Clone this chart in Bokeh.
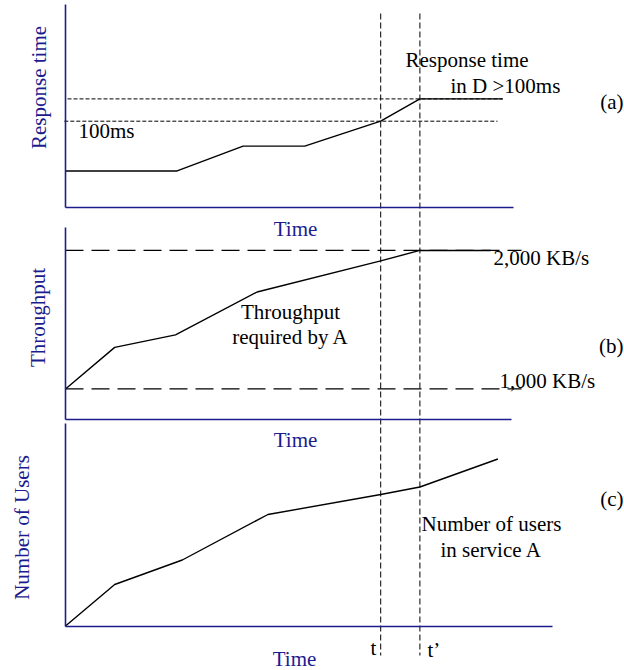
import math
from bokeh.plotting import figure
from bokeh.models import Range1d, LinearAxis, FixedTicker, Label
from bokeh.embed import file_html
from bokeh.resources import INLINE

# ---------------- data ----------------
# (a) response time of service D
time_a = [0, 2.79, 4.44, 5.98, 7.88, 8.86, 10.93]
response_ms = [42, 42, 71, 71, 100, 126, 126]
threshold_ms = 100
response_in_d_ms = 126

# (b) throughput required by service A
time_b = [0, 1.23, 2.75, 4.79, 7.88, 8.86, 10.63]
throughput_kbs = [1000, 1300, 1390, 1700, 1925, 2000, 2000]
throughput_levels = [1000, 2000]
throughput_level_labels = ["1,000 KB/s", "2,000 KB/s"]

# (c) number of users in service A
time_c = [0, 1.23, 2.92, 5.06, 7.88, 8.86, 10.81]
users = [0, 415, 660, 1115, 1315, 1390, 1670]

# instants t and t'
t_marks = [7.88, 8.86]
t_labels = ["t", "t\u2019"]

# ---------------- layout ----------------
W, H = 624, 670
PAGE_L, PAGE_T = 0, 0
PAGE_R, PAGE_B = PAGE_L + W, PAGE_T + H
ORIGIN_X = 65.0     # x pixel of time 0
PX_PER_T = 40.0
LABEL_DY = -8       # baseline compensation for labels

AX = "#1c1c8f"
FONT = "Liberation Serif"
FS = "21px"


def yrange(axis_px, px_per_unit, base):
    top = base + (axis_px - PAGE_T) / px_per_unit
    bottom = base - (PAGE_B - axis_px) / px_per_unit
    return Range1d(bottom, top)


p = figure(width=W, height=H, output_backend="svg", toolbar_location=None,
           x_range=Range1d((PAGE_L - ORIGIN_X) / PX_PER_T, (PAGE_R - ORIGIN_X) / PX_PER_T),
           y_range=Range1d(PAGE_B, PAGE_T),
           x_axis_type=None, y_axis_type=None, min_border=0)
p.outline_line_color = None
p.grid.visible = False
p.background_fill_color = "white"
p.border_fill_color = "white"

p.extra_x_ranges = {"px": Range1d(PAGE_L, PAGE_R)}
p.extra_y_ranges = {
    "a": yrange(206.5, 0.858, 0),
    "b": yrange(418.5, 0.1385, 783),
    "c": yrange(625.5, 0.1, 0),
}

panels = [
    ("a", 0, (0, 236), (0, 11.2)),
    ("b", 783, (783, 2166), (0, 11.15)),
    ("c", 0, (0, 2022), (0, 12.18)),
]
for name, base, ybounds, xbounds in panels:
    for side, loc, bnds in (("left", 0, ybounds), ("below", base, xbounds)):
        ax = LinearAxis(y_range_name=name, fixed_location=loc, bounds=bnds,
                        ticker=FixedTicker(ticks=[]))
        ax.axis_line_color = AX
        ax.axis_line_width = 1.6
        ax.major_tick_line_color = None
        ax.minor_tick_line_color = None
        ax.major_label_text_font_size = "0px"
        p.add_layout(ax, side)

# (a) thresholds and curve
p.line([-0.03, 10.8], [threshold_ms, threshold_ms], y_range_name="a",
       line_color="black", line_width=1, line_dash="4 2")
p.line([0.05, 10.93], [response_in_d_ms, response_in_d_ms], y_range_name="a",
       line_color="black", line_width=1, line_dash="4 2")
p.line(time_a, response_ms, y_range_name="a", line_color="black", line_width=1.4)

# (b) levels and curve
for lv in throughput_levels:
    p.line([0, 11.4], [lv, lv], y_range_name="b", line_color="black",
           line_width=1.3, line_dash="18 8")
p.line(time_b, throughput_kbs, y_range_name="b", line_color="black", line_width=1.4)

# (c) curve
p.line(time_c, users, y_range_name="c", line_color="black", line_width=1.4)

# vertical markers t, t'
p.segment(x0=t_marks, y0=[13] * len(t_marks), x1=t_marks, y1=[655] * len(t_marks),
          line_color="black", line_width=1, line_dash="6 3")


def lab(text, x, y, align="left", color="black"):
    p.add_layout(Label(x=x, y=y + LABEL_DY, x_range_name="px", text=text, text_font=FONT,
                       text_font_size=FS, text_color=color, text_align=align,
                       text_baseline="alphabetic"))


def vlab(text, x, y):
    p.add_layout(Label(x=x, y=y, x_range_name="px", text=text, text_font=FONT,
                       text_font_size=FS, text_color=AX, text_align="center",
                       text_baseline="middle", angle=math.pi / 2))


# axis titles
vlab("Response time", 38, 87)
vlab("Throughput", 37, 317)
vlab("Number of Users", 21, 527)
lab("Time", 295, 236, align="center", color=AX)
lab("Time", 295, 447, align="center", color=AX)
lab("Time", 294, 666, align="center", color=AX)

# annotations
lab("Response time", 405, 67)
lab("in D >100ms", 450, 93)
lab("100ms", 78, 138)
lab("(a)", 623, 109, align="right")
lab(throughput_level_labels[1], 493, 265)
lab(throughput_level_labels[0], 499, 388)
lab("Throughput", 290, 319, align="center")
lab("required by A", 290, 344, align="center")
lab("(b)", 623, 353, align="right")
lab("Number of users", 421, 531)
lab("in service A", 440, 557)
lab("(c)", 623, 506, align="right")
lab(t_labels[0], 370, 655)
lab(t_labels[1], 427, 657)

open("out.html", "w").write(file_html(p, INLINE))
